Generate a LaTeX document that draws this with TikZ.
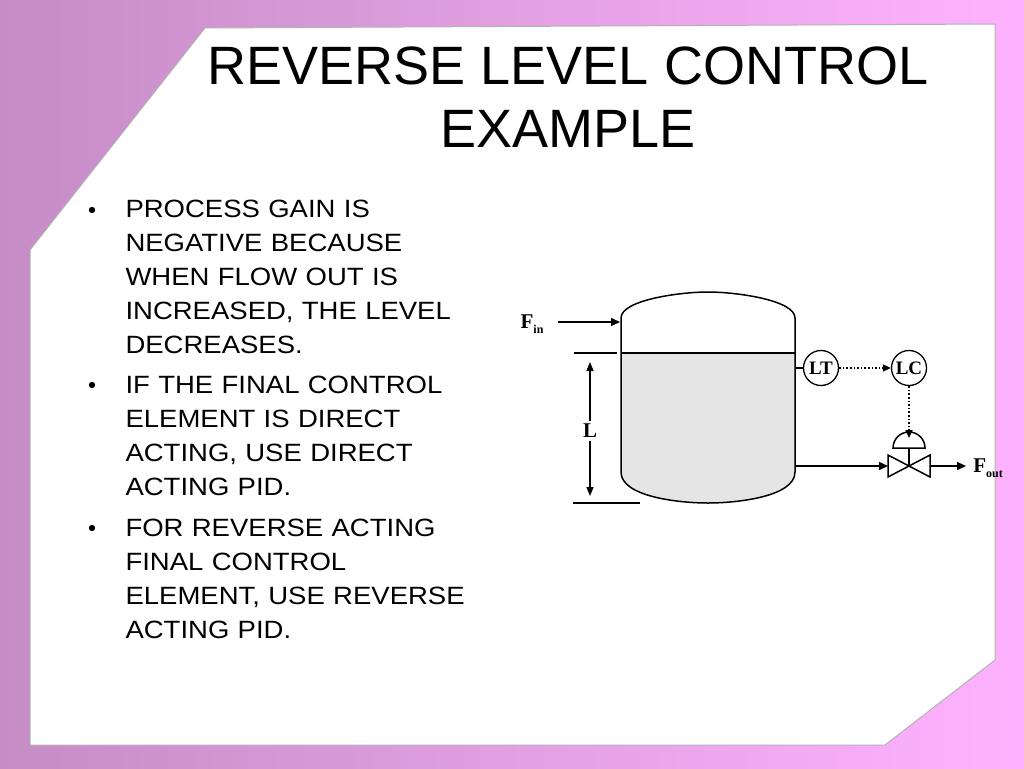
\documentclass[tikz,border=0pt]{standalone}
\usepackage{fontspec}
\setmainfont{Liberation Sans}
\newfontfamily\serifb{Liberation Serif}
\newfontfamily\bodyf[FakeStretch=1.1]{Liberation Sans}
\usetikzlibrary{arrows.meta}
\begin{document}
\begin{tikzpicture}[x=1pt,y=-1pt,
  pipe/.style={line width=1.5pt,-{Triangle[length=9pt,width=8pt]}},
  instr/.style={circle,draw,line width=1.3pt,minimum size=35pt,inner sep=0pt,font=\serifb\bfseries\fontsize{19}{19}\selectfont},
  sig/.style={line width=1.6pt,dotted,-{Triangle[length=8pt,width=7pt]}},
  bul/.style={anchor=north west,align=left,text width=380pt,font=\bodyf\fontsize{25}{34}\selectfont},
  lbl/.style={font=\serifb\bfseries\fontsize{21}{21}\selectfont}]
\useasboundingbox (0,0) rectangle (1024,768);
\shade[left color=violet!45!white,right color=magenta!30!white] (0,0) rectangle (1024,768);
\fill[white] (30,250) -- (205,28) -- (995,24) -- (995,660) -- (885,745) -- (30,745) -- cycle;
\draw[gray!60,line width=1pt] (30,250) -- (205,28) -- (995,24) -- (995,660) -- (885,745) -- (30,745) -- cycle;
% title
\node[font=\fontsize{54}{63}\selectfont,align=center] (title) at (568,97) {REVERSE LEVEL CONTROL\\EXAMPLE};
% bullets
\node[bul] (b1) at (122,197) {PROCESS GAIN IS\\NEGATIVE BECAUSE\\WHEN FLOW OUT IS\\INCREASED, THE LEVEL\\DECREASES.};
\node[bul] (b2) at (122,373) {IF THE FINAL CONTROL\\ELEMENT IS DIRECT\\ACTING, USE DIRECT\\ACTING PID.};
\node[bul] (b3) at (122,516) {FOR REVERSE ACTING\\FINAL CONTROL\\ELEMENT, USE REVERSE\\ACTING PID.};
\foreach \y in {210,385,528} \fill (92,\y) circle (3.2pt);
% tank
\fill[gray!20] (621,353) -- (621,472) .. controls (621,497) and (680,503) .. (708,503) .. controls (736,503) and (795,497) .. (795,472) -- (795,353) -- cycle;
\draw[line width=1.5pt] (621,472) -- (621,318) .. controls (621,300) and (680,292) .. (708,292) .. controls (736,292) and (795,300) .. (795,318) -- (795,472) .. controls (795,497) and (736,503) .. (708,503) .. controls (680,503) and (621,497) .. (621,472) -- cycle;
\draw[line width=1.5pt] (621,353) -- (795,353);
% level marks
\draw[line width=1.5pt] (574,353) -- (617,353);
\draw[line width=1.5pt] (573,503) -- (640,503);
\node[lbl] (L) at (590,431) {L};
\draw[line width=1.5pt,-{Triangle[length=9pt,width=7pt]}] (L.north) -- (590,362);
\draw[line width=1.5pt,-{Triangle[length=9pt,width=7pt]}] (L.south) -- (590,496);
% inlet
\coordinate (inA) at (558,322);
\coordinate (inB) at (620,322);
\draw[pipe] (inA) -- (inB);
\node[lbl] (fin) at (532,324) {F\raisebox{-5pt}{\fontsize{12}{12}\selectfont in}};
% instruments
\node[instr] (LT) at (821,368) {LT};
\node[instr] (LC) at (909,368) {LC};
\coordinate (tap) at (795,368);
\draw[line width=1.3pt] (tap) -- (LT.west);
\draw[sig] (LT.east) -- (LC.west);
% valve
\coordinate (vc) at (909,466);
\draw[sig] (LC.south) -- (909,438);
\draw[line width=1.5pt] (893,448) arc[start angle=180,end angle=0,radius=16pt] -- cycle;
\draw[line width=1.5pt] (909,448) -- (vc);
\draw[line width=1.5pt] (888,455) -- (888,477) -- (930,455) -- (930,477) -- cycle;
\coordinate (outA) at (795,466);
\draw[pipe] (outA) -- (888,466);
\coordinate (outB) at (966,466);
\draw[pipe] (930,466) -- (outB);
\node[lbl] (fout) at (988,468) {F\raisebox{-5pt}{\fontsize{12}{12}\selectfont out}};
\end{tikzpicture}
\end{document}
